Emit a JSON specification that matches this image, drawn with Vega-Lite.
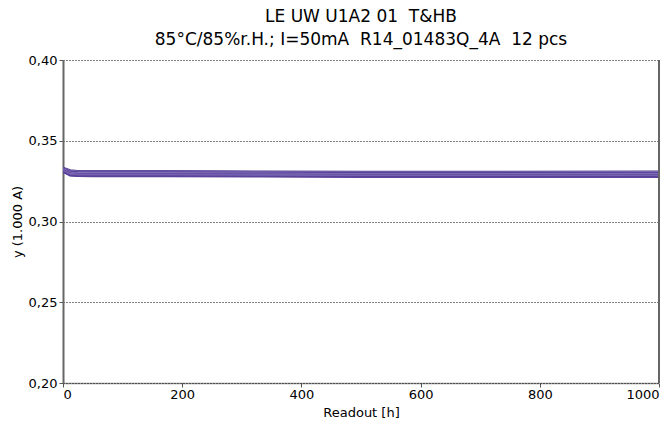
{
  "$schema": "https://vega.github.io/schema/vega-lite/v6.json",
  "width": 596,
  "height": 323,
  "autosize": "none",
  "padding": {"left": 63, "top": 60, "right": 12, "bottom": 42},
  "background": "white",
  "config": {"view": {"stroke": null}, "font": "DejaVu Sans"},
  "title": {
    "text": ["LE UW U1A2 01\u00a0\u00a0T&HB", "85°C/85%r.H.; I=50mA\u00a0\u00a0R14_01483Q_4A\u00a0\u00a012 pcs"],
    "fontSize": 17,
    "fontWeight": "normal",
    "font": "DejaVu Sans",
    "color": "#000",
    "lineHeight": 23,
    "offset": 5,
    "anchor": "middle"
  },
  "data": {"values": [
    {"t":0,"v":0.3333,"s":"s1"},{"t":12,"v":0.3318,"s":"s1"},{"t":24,"v":0.3313,"s":"s1"},{"t":48,"v":0.3312,"s":"s1"},{"t":168,"v":0.3312,"s":"s1"},{"t":336,"v":0.3310,"s":"s1"},{"t":500,"v":0.3308,"s":"s1"},{"t":750,"v":0.3308,"s":"s1"},{"t":1000,"v":0.3309,"s":"s1"},
    {"t":0,"v":0.3330,"s":"s2"},{"t":12,"v":0.3314,"s":"s2"},{"t":24,"v":0.3310,"s":"s2"},{"t":48,"v":0.3309,"s":"s2"},{"t":168,"v":0.3309,"s":"s2"},{"t":336,"v":0.3307,"s":"s2"},{"t":500,"v":0.3305,"s":"s2"},{"t":750,"v":0.3305,"s":"s2"},{"t":1000,"v":0.3306,"s":"s2"},
    {"t":0,"v":0.3327,"s":"s3"},{"t":12,"v":0.3308,"s":"s3"},{"t":24,"v":0.3305,"s":"s3"},{"t":48,"v":0.3304,"s":"s3"},{"t":168,"v":0.3304,"s":"s3"},{"t":336,"v":0.3302,"s":"s3"},{"t":500,"v":0.3300,"s":"s3"},{"t":750,"v":0.3300,"s":"s3"},{"t":1000,"v":0.3300,"s":"s3"},
    {"t":0,"v":0.3325,"s":"s4"},{"t":12,"v":0.3304,"s":"s4"},{"t":24,"v":0.3301,"s":"s4"},{"t":48,"v":0.3300,"s":"s4"},{"t":168,"v":0.3300,"s":"s4"},{"t":336,"v":0.3298,"s":"s4"},{"t":500,"v":0.3296,"s":"s4"},{"t":750,"v":0.3296,"s":"s4"},{"t":1000,"v":0.3297,"s":"s4"},
    {"t":0,"v":0.3322,"s":"s5"},{"t":12,"v":0.3301,"s":"s5"},{"t":24,"v":0.3298,"s":"s5"},{"t":48,"v":0.3297,"s":"s5"},{"t":168,"v":0.3297,"s":"s5"},{"t":336,"v":0.3295,"s":"s5"},{"t":500,"v":0.3293,"s":"s5"},{"t":750,"v":0.3293,"s":"s5"},{"t":1000,"v":0.3293,"s":"s5"},
    {"t":0,"v":0.3320,"s":"s6"},{"t":12,"v":0.3298,"s":"s6"},{"t":24,"v":0.3295,"s":"s6"},{"t":48,"v":0.3294,"s":"s6"},{"t":168,"v":0.3294,"s":"s6"},{"t":336,"v":0.3292,"s":"s6"},{"t":500,"v":0.3290,"s":"s6"},{"t":750,"v":0.3290,"s":"s6"},{"t":1000,"v":0.3290,"s":"s6"},
    {"t":0,"v":0.3318,"s":"s7"},{"t":12,"v":0.3296,"s":"s7"},{"t":24,"v":0.3293,"s":"s7"},{"t":48,"v":0.3292,"s":"s7"},{"t":168,"v":0.3292,"s":"s7"},{"t":336,"v":0.3290,"s":"s7"},{"t":500,"v":0.3288,"s":"s7"},{"t":750,"v":0.3288,"s":"s7"},{"t":1000,"v":0.3288,"s":"s7"},
    {"t":0,"v":0.3316,"s":"s8"},{"t":12,"v":0.3294,"s":"s8"},{"t":24,"v":0.3291,"s":"s8"},{"t":48,"v":0.3290,"s":"s8"},{"t":168,"v":0.3290,"s":"s8"},{"t":336,"v":0.3288,"s":"s8"},{"t":500,"v":0.3286,"s":"s8"},{"t":750,"v":0.3286,"s":"s8"},{"t":1000,"v":0.3286,"s":"s8"},
    {"t":0,"v":0.3314,"s":"s9"},{"t":12,"v":0.3292,"s":"s9"},{"t":24,"v":0.3289,"s":"s9"},{"t":48,"v":0.3288,"s":"s9"},{"t":168,"v":0.3288,"s":"s9"},{"t":336,"v":0.3286,"s":"s9"},{"t":500,"v":0.3284,"s":"s9"},{"t":750,"v":0.3284,"s":"s9"},{"t":1000,"v":0.3284,"s":"s9"},
    {"t":0,"v":0.3312,"s":"s10"},{"t":12,"v":0.3290,"s":"s10"},{"t":24,"v":0.3287,"s":"s10"},{"t":48,"v":0.3286,"s":"s10"},{"t":168,"v":0.3286,"s":"s10"},{"t":336,"v":0.3284,"s":"s10"},{"t":500,"v":0.3282,"s":"s10"},{"t":750,"v":0.3282,"s":"s10"},{"t":1000,"v":0.3282,"s":"s10"},
    {"t":0,"v":0.3310,"s":"s11"},{"t":12,"v":0.3287,"s":"s11"},{"t":24,"v":0.3284,"s":"s11"},{"t":48,"v":0.3283,"s":"s11"},{"t":168,"v":0.3283,"s":"s11"},{"t":336,"v":0.3281,"s":"s11"},{"t":500,"v":0.3279,"s":"s11"},{"t":750,"v":0.3279,"s":"s11"},{"t":1000,"v":0.3279,"s":"s11"},
    {"t":0,"v":0.3308,"s":"s12"},{"t":12,"v":0.3284,"s":"s12"},{"t":24,"v":0.3281,"s":"s12"},{"t":48,"v":0.3280,"s":"s12"},{"t":168,"v":0.3280,"s":"s12"},{"t":336,"v":0.3278,"s":"s12"},{"t":500,"v":0.3276,"s":"s12"},{"t":750,"v":0.3276,"s":"s12"},{"t":1000,"v":0.3276,"s":"s12"}
  ]},
  "layer": [
    {
      "mark": {"type": "line", "strokeWidth": 2, "clip": true},
      "encoding": {
        "x": {
          "field": "t", "type": "quantitative",
          "scale": {"domain": [0, 1000], "nice": false, "zero": false},
          "axis": {
            "title": "Readout [h]", "titleFontSize": 13, "titleFontWeight": "normal", "titlePadding": 5, "titleColor": "#000",
            "values": [0, 200, 400, 600, 800, 1000], "format": "d", "labelFontSize": 13, "labelColor": "#000",
            "grid": false, "domain": true, "domainColor": "#222", "domainDash": [1, 1], "domainWidth": 1.5,
            "tickColor": "#555", "tickSize": 4, "labelPadding": 1
          }
        },
        "y": {
          "field": "v", "type": "quantitative",
          "scale": {"domain": [0.2, 0.4], "nice": false, "zero": false},
          "axis": {
            "title": "y (1.000 A)", "titleFontSize": 13, "titleFontWeight": "normal", "titlePadding": 4, "titleColor": "#000",
            "values": [0.2, 0.25, 0.3, 0.35, 0.4],
            "labelExpr": "replace(format(datum.value, '.2f'), '.', ',')",
            "labelFontSize": 13, "labelColor": "#000",
            "grid": true, "gridDash": [1, 2], "gridColor": "#000", "gridWidth": 1, "gridOpacity": 1,
            "domainColor": "#666", "domainWidth": 2, "tickColor": "#555", "tickSize": 4, "labelPadding": 2
          }
        },
        "color": {
          "field": "s", "type": "nominal", "legend": null,
          "scale": {"range": ["#4b3a8c", "#6a52a6", "#8472bb", "#5a4199", "#7a66b3", "#4f3b90", "#6b55a8", "#9382c4", "#5c469a", "#7560b0", "#533e94", "#8b7ac0"]}
        },
        "detail": {"field": "s"}
      }
    },
    {
      "mark": {"type": "rule", "color": "#666", "strokeWidth": 2},
      "data": {"values": [{"x": 1000}]},
      "encoding": {"x": {"field": "x", "type": "quantitative"}}
    }
  ]
}
